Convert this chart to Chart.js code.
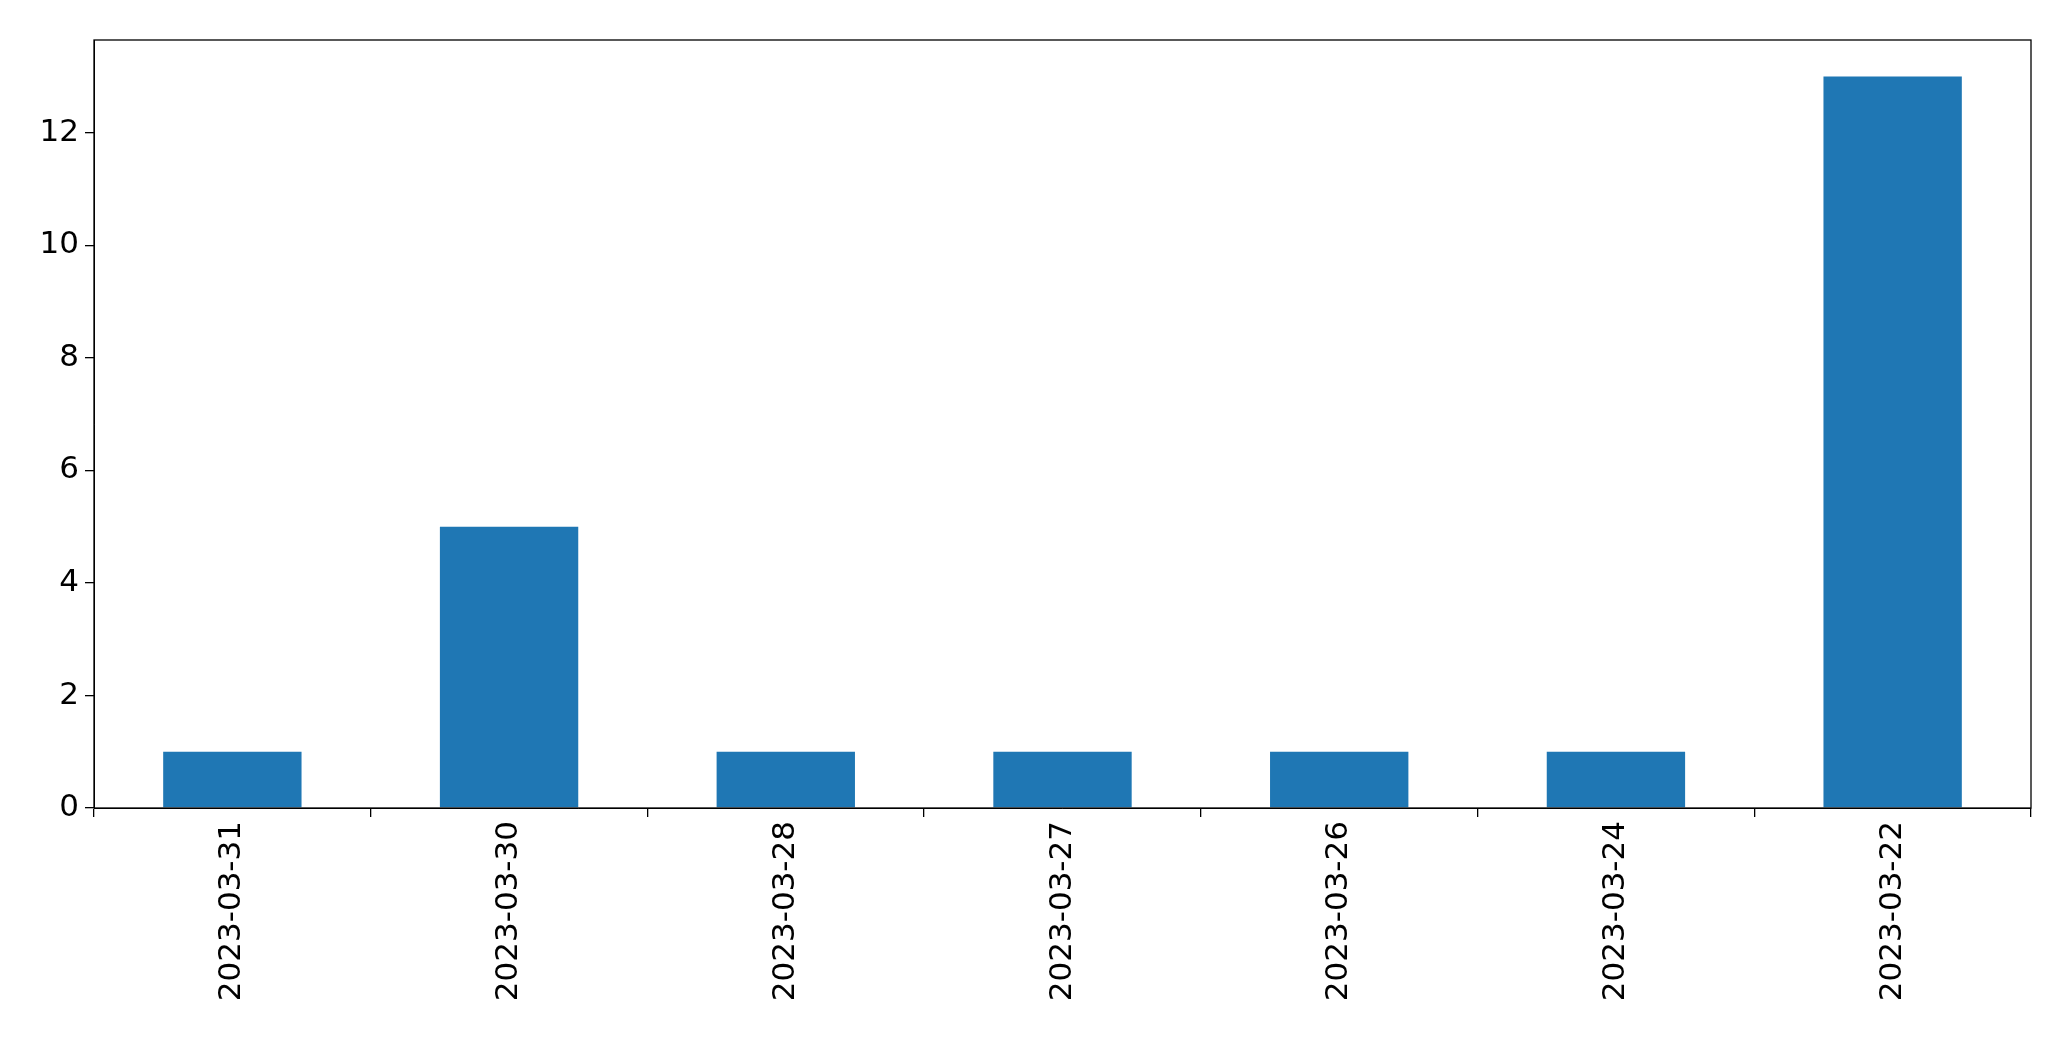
<!DOCTYPE html>
<html><head><meta charset="utf-8">
<script src="https://cdn.jsdelivr.net/npm/chart.js@4"></script>
<style>html,body{margin:0;padding:0;background:#fff}</style>
</head><body>
<canvas id="c" width="2071" height="1061"></canvas>
<script>
const categories = ["2023-03-31","2023-03-30","2023-03-28","2023-03-27","2023-03-26","2023-03-24","2023-03-22"];
const values = [1,5,1,1,1,1,13];
const yTicks = [0,2,4,6,8,10,12];

const frame = {id:'frame', afterDraw(ch){const a=ch.chartArea,c=ch.ctx;c.save();c.strokeStyle='#000';c.lineWidth=1.3;c.strokeRect(a.left,a.top,a.right-a.left,a.bottom-a.top);c.restore();}};
const font = {family:'DejaVu Sans', size:31};
new Chart(document.getElementById('c'),{
  type:'bar',
  data:{labels:categories,datasets:[{data:values,backgroundColor:'#1f77b4',categoryPercentage:1,barPercentage:0.5}]},
  options:{responsive:false,animation:false,
    layout:{padding:{top:40,right:40,left:0,bottom:0}},
    plugins:{legend:{display:false},tooltip:{enabled:false}},
    scales:{
      x:{grid:{display:true,drawOnChartArea:false,color:'#000',tickLength:9,lineWidth:1.3},border:{color:'#000'},
         ticks:{color:'#000',font,minRotation:90,maxRotation:90,padding:4},
         afterFit(s){s.height=253;}},
      y:{min:0,max:13.65,grid:{display:true,drawOnChartArea:false,color:'#000',tickLength:9,lineWidth:1.3},border:{color:'#000'},
         afterBuildTicks(s){s.ticks=yTicks.map(v=>({value:v}));},
         ticks:{color:'#000',font,padding:6},
         afterFit(s){s.width=94;}}
    }},
  plugins:[frame]
});
</script></body></html>
